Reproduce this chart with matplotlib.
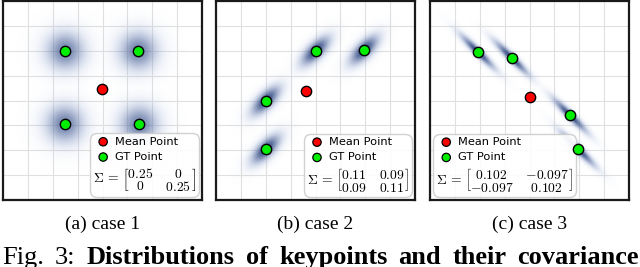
import matplotlib

matplotlib.use("Agg")

import numpy as np
import matplotlib.pyplot as plt
from matplotlib.colors import to_rgb
from matplotlib.offsetbox import AnchoredOffsetbox, DrawingArea, HPacker, TextArea, VPacker
from matplotlib.patches import Circle

plt.rcParams["mathtext.fontset"] = "cm"

# data (axes span -2..2, grid step 0.5)
case_names = ["(a) case 1", "(b) case 2", "(c) case 3"]
gt_x = [
    [-0.75, 0.72, -0.76, 0.74],
    [0.0, 0.98, -1.0, -1.0],
    [-1.04, -0.36, 0.82, 0.98],
]
gt_y = [
    [1.0, 1.0, -0.47, -0.48],
    [1.0, 1.02, 0.0, -0.98],
    [0.98, 0.86, -0.30, -0.98],
]
mean_x = [-0.02, -0.2, 0.02]
mean_y = [0.24, 0.2, 0.08]
covariances = [
    [[0.25, 0.0], [0.0, 0.25]],
    [[0.11, 0.09], [0.09, 0.11]],
    [[0.102, -0.097], [-0.097, 0.102]],
]
cov_text = [
    [["0.25", "0"], ["0", "0.25"]],
    [["0.11", "0.09"], ["0.09", "0.11"]],
    [["0.102", "-0.097"], ["-0.097", "0.102"]],
]
caption_words = ["Fig.", "3:", "Distributions", "of", "keypoints", "and", "their", "covariance"]
caption_bold = [False, False, True, True, True, True, True, True]

# styling: how the drawn blobs look (scale of sigma, extra blur, peak darkness)
blob_scale = [0.6, 0.62, 0.8]
blob_blur = [0.0, 0.09, 0.025]
blob_peak = [0.75, 0.95, 0.95]
legend_loc = ["lower right", "lower right", "lower left"]
GT_COLOR = "#00ee00"
MEAN_COLOR = "#ff0000"
LIGHT_BLUE = np.array(to_rgb("#a9bde6"))
DARK_BLUE = np.array(to_rgb("#1c3470"))

panel_left_px = [3, 216, 430]
panel_size_px = 199
FIG_W, FIG_H = 640, 267


def density_rgba(xs, ys, cov, scale, blur, peak, n=500):
    grid = np.linspace(-2, 2, n)
    gx, gy = np.meshgrid(grid, grid)
    cov_draw = np.array(cov) * scale**2 + np.eye(2) * blur**2
    inv = np.linalg.inv(cov_draw)
    dens = np.zeros_like(gx)
    for px, py in zip(xs, ys):
        dx = gx - px
        dy = gy - py
        m2 = inv[0, 0] * dx * dx + 2 * inv[0, 1] * dx * dy + inv[1, 1] * dy * dy
        dens = np.maximum(dens, np.exp(-0.5 * m2))
    mix = (dens * peak)[..., None]
    rgba = np.zeros((n, n, 4))
    rgba[..., :3] = LIGHT_BLUE * (1 - mix) + DARK_BLUE * mix
    rgba[..., 3] = peak * dens
    return rgba


def matrix_tex(cells):
    col1 = r"\genfrac{}{}{0}{0}{%s}{%s}" % (cells[0][0], cells[1][0])
    col2 = r"\genfrac{}{}{0}{0}{%s}{%s}" % (cells[0][1], cells[1][1])
    return r"$\Sigma\,=\,\left[" + col1 + r"\quad" + col2 + r"\right]$"


def add_legend(ax, cells, loc):
    rows = []
    for color, label in [(MEAN_COLOR, "Mean Point"), (GT_COLOR, "GT Point")]:
        da = DrawingArea(12, 8)
        da.add_artist(Circle((7.5, 4), 3.0, facecolor=color, edgecolor="black", linewidth=0.9))
        text = TextArea(label, textprops=dict(size=8.2, family="DejaVu Sans"))
        rows.append(HPacker(children=[da, text], sep=4, align="center", pad=0))
    rows.append(TextArea(matrix_tex(cells), textprops=dict(size=9.8)))
    box = VPacker(children=rows, sep=3, align="left", pad=0)
    anchored = AnchoredOffsetbox(loc=loc, child=box, pad=0.22, borderpad=0.2, frameon=True)
    anchored.patch.set_boxstyle("round,pad=0,rounding_size=0.5")
    anchored.patch.set_edgecolor("#cccccc")
    anchored.patch.set_facecolor("white")
    anchored.patch.set_alpha(0.9)
    # below the point markers so no GT point gets hidden
    anchored.set_zorder(2.5)
    ax.add_artist(anchored)


fig = plt.figure(figsize=(FIG_W / 100, FIG_H / 100), dpi=100)

for i in range(3):
    left = panel_left_px[i] / FIG_W
    bottom = 1 - (1 + panel_size_px) / FIG_H
    ax = fig.add_axes([left, bottom, panel_size_px / FIG_W, panel_size_px / FIG_H])
    ax.set_xlim(-2, 2)
    ax.set_ylim(-2, 2)
    ticks = np.arange(-2, 2.01, 0.5)
    ax.set_xticks(ticks)
    ax.set_yticks(ticks)
    ax.tick_params(length=0, labelbottom=False, labelleft=False)
    ax.grid(True, color="#e0e0e0", linewidth=0.8)
    ax.set_axisbelow(True)
    for spine in ax.spines.values():
        spine.set_color("#1a1a1a")
        spine.set_linewidth(1.6)

    ax.imshow(
        density_rgba(gt_x[i], gt_y[i], covariances[i], blob_scale[i], blob_blur[i], blob_peak[i]),
        extent=(-2, 2, -2, 2),
        origin="lower",
        interpolation="bilinear",
        zorder=1,
    )
    ax.scatter(gt_x[i], gt_y[i], s=55, color=GT_COLOR, edgecolor="black", linewidth=1.0, zorder=3)
    ax.scatter([mean_x[i]], [mean_y[i]], s=55, color=MEAN_COLOR, edgecolor="black", linewidth=1.0, zorder=3)
    add_legend(ax, cov_text[i], legend_loc[i])

    cx = (panel_left_px[i] + panel_size_px / 2) / FIG_W
    fig.text(cx, 1 - 224 / FIG_H, case_names[i], ha="center", va="center",
             family="Liberation Serif", size=14)

# justified figure caption, cut off at the bottom edge like the reference
renderer = fig.canvas.get_renderer()
word_artists = []
for word, bold in zip(caption_words, caption_bold):
    t = fig.text(0, 1 - 264 / FIG_H, word, ha="left", va="baseline", family="Liberation Serif",
                 weight="bold" if bold else "normal", size=19)
    word_artists.append(t)
widths = [t.get_window_extent(renderer).width for t in word_artists]
x0, x1 = 2, 639
gap = (x1 - x0 - sum(widths)) / (len(widths) - 1)
x = x0
for t, w in zip(word_artists, widths):
    t.set_x(x / FIG_W)
    x += w + gap

fig.savefig("out.png", dpi=100)
plt.close(fig)
